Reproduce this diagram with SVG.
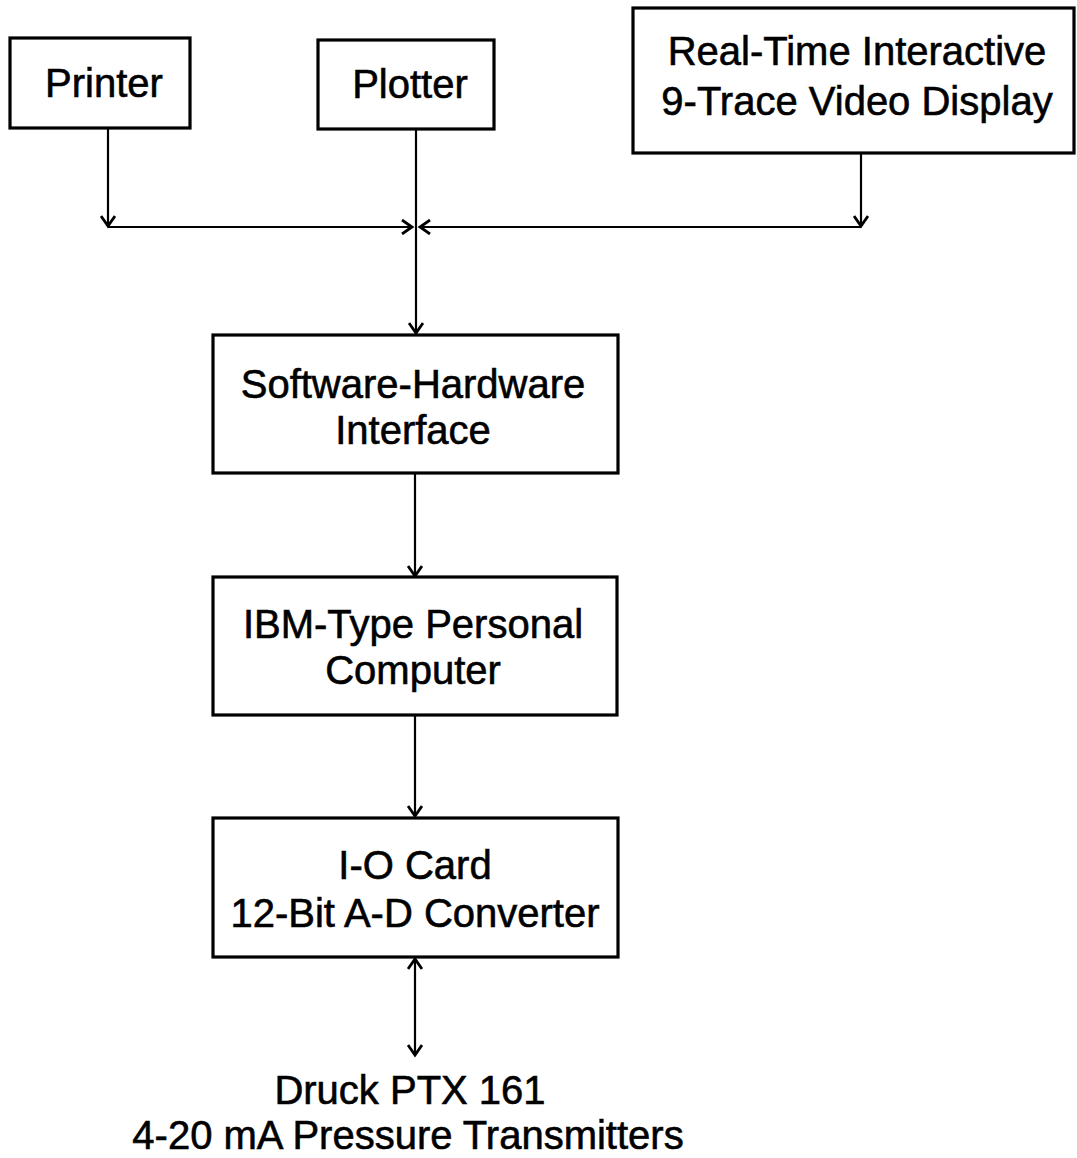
<svg xmlns="http://www.w3.org/2000/svg" width="1077" height="1158" viewBox="0 0 1077 1158">
<style>
.box{fill:#fff;stroke:#000;stroke-width:3.2}
.t{font-family:"Liberation Sans",Arial,sans-serif;font-size:40px;fill:#000;stroke:#000;stroke-width:0.6;text-anchor:middle}
.c{fill:none;stroke:#000;stroke-width:2.2}
</style>
<defs>
<marker id="ah" markerUnits="userSpaceOnUse" markerWidth="14" markerHeight="16" refX="11" refY="8" orient="auto-start-reverse">
<path d="M1,1 L11,8 L1,15" fill="none" stroke="#000" stroke-width="2.8"/>
</marker>
</defs>
<rect width="1077" height="1158" fill="#fff"/>
<g id="connectors">
<line class="c" x1="108" y1="128" x2="108" y2="226" marker-end="url(#ah)"/>
<line class="c" x1="108" y1="227" x2="412" y2="227" marker-end="url(#ah)"/>
<line class="c" x1="861" y1="153" x2="861" y2="226" marker-end="url(#ah)"/>
<line class="c" x1="861" y1="227" x2="420" y2="227" marker-end="url(#ah)"/>
<line class="c" x1="416" y1="129" x2="416" y2="333" marker-end="url(#ah)"/>
<line class="c" x1="415" y1="473" x2="415" y2="576" marker-end="url(#ah)"/>
<line class="c" x1="415" y1="715" x2="415" y2="816" marker-end="url(#ah)"/>
<line class="c" x1="415" y1="959" x2="415" y2="1055" marker-start="url(#ah)" marker-end="url(#ah)"/>
</g>
<g id="printer">
<rect class="box" x="10" y="38" width="180" height="90"/>
<text class="t" x="104" y="97">Printer</text>
</g>
<g id="plotter">
<rect class="box" x="318" y="40" width="176" height="89"/>
<text class="t" x="410" y="98">Plotter</text>
</g>
<g id="display">
<rect class="box" x="633" y="8" width="441" height="145"/>
<text class="t" x="857" y="65">Real-Time Interactive</text>
<text class="t" x="857" y="115">9-Trace Video Display</text>
</g>
<g id="interface">
<rect class="box" x="213" y="335" width="405" height="138"/>
<text class="t" x="413" y="398">Software-Hardware</text>
<text class="t" x="413" y="444">Interface</text>
</g>
<g id="computer">
<rect class="box" x="213" y="577" width="404" height="138"/>
<text class="t" x="413" y="638">IBM-Type Personal</text>
<text class="t" x="413" y="684">Computer</text>
</g>
<g id="iocard">
<rect class="box" x="213" y="818" width="405" height="139"/>
<text class="t" x="415" y="879">I-O Card</text>
<text class="t" x="415" y="927">12-Bit A-D Converter</text>
</g>
<g id="transmitters">
<text class="t" x="410" y="1104">Druck PTX 161</text>
<text class="t" x="408" y="1149">4-20 mA Pressure Transmitters</text>
</g>
</svg>
